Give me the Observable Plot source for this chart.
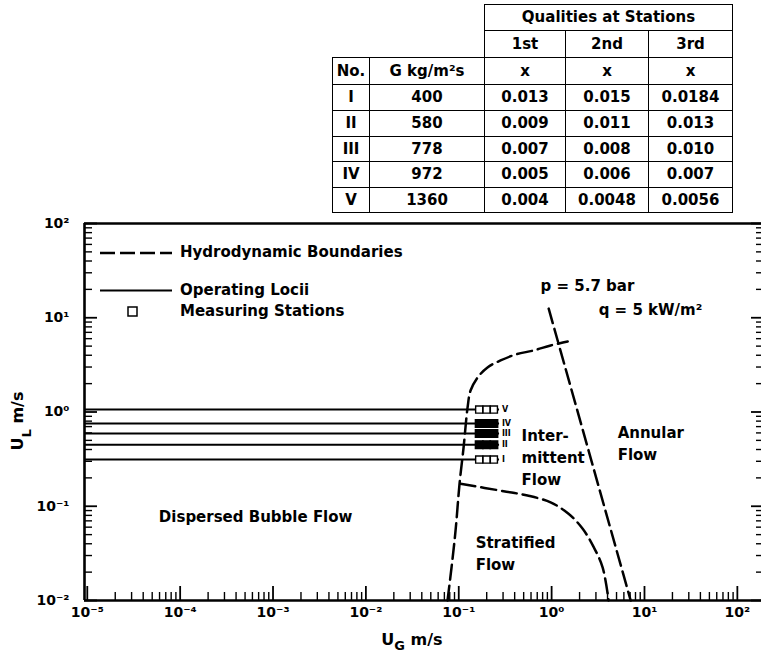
<!DOCTYPE html>
<html><head><meta charset="utf-8">
<script src="https://cdn.jsdelivr.net/npm/d3@7"></script>
<script src="https://cdn.jsdelivr.net/npm/@observablehq/plot@0.6"></script>
<style>
body{margin:0;background:#fff;}
#wrap{position:relative;width:764px;height:657px;}
#tbl{position:absolute;left:332px;top:4px;border-collapse:collapse;font:bold 15px "DejaVu Sans",sans-serif;color:#000;table-layout:fixed;}
#tbl td{border:1.5px solid #000;text-align:center;padding:0;line-height:1;}
#tbl td.blank{border:none;}
</style></head><body><div id="wrap"></div>
<script>
// ---- table data ----
const tableNo = ["I","II","III","IV","V"];
const tableG = ["400","580","778","972","1360"];
const quality1st = ["0.013","0.009","0.007","0.005","0.004"];
const quality2nd = ["0.015","0.011","0.008","0.006","0.0048"];
const quality3rd = ["0.0184","0.013","0.010","0.007","0.0056"];

// ---- chart data ----
const lociNo = ["I","II","III","IV","V"];
const lociUL = [0.313, 0.45, 0.59, 0.755, 1.06];          // U_L of operating loci (m/s)
const stationUG = [0.166, 0.1994, 0.239];                   // U_G of 1st, 2nd, 3rd stations
const lociEndUG = 0.275;
// hydrodynamic boundaries [U_G, U_L]
const boundaryIntermittent = [[0.0757,0.01],[0.0836,0.0224],[0.0924,0.0553],[0.102,0.174],[0.1127,0.42],[0.1245,1.12],[0.134,1.69],[0.1595,2.32],[0.204,2.97],[0.282,3.52],[0.409,4.07],[0.64,4.5],[0.975,5.08],[1.49,5.6]];
const boundaryStratified = [[0.1045,0.173],[0.304,0.1445],[0.55,0.130],[0.975,0.110],[1.52,0.0832],[2.16,0.0577],[2.84,0.0368],[3.54,0.0225],[4.11,0.01]];
const boundaryAnnular = [[0.93,12.5],[7.1,0.01]];
// region labels
const centerLabelText = ["Dispersed Bubble Flow"];
const centerLabelUG = [6.5e-4];
const centerLabelUL = [0.076];
const startLabelText = ["Inter-\nmittent\nFlow","Annular\nFlow","Stratified\nFlow","p = 5.7 bar","q = 5 kW/m²"];
const startLabelUG = [0.475, 5.14, 0.152, 0.76, 3.21];
const startLabelUL = [0.341, 0.486, 0.0331, 23.1, 12.8];
// axes
const xTickExp = [-5,-4,-3,-2,-1,0,1,2];
const yTickExp = [-2,-1,0,1,2];

// ---- table ----
const tbl = document.createElement("table");
tbl.id = "tbl";
const colW = [37,115,81,83,84];
let html = "<colgroup>" + colW.map(w=>`<col style="width:${w}px">`).join("") + "</colgroup>";
html += `<tr style="height:26px"><td class="blank" colspan="2"></td><td colspan="3">Qualities at Stations</td></tr>`;
html += `<tr style="height:27px"><td class="blank" colspan="2"></td><td>1st</td><td>2nd</td><td>3rd</td></tr>`;
html += `<tr style="height:27px"><td>No.</td><td>G kg/m²s</td><td>x</td><td>x</td><td>x</td></tr>`;
const rowH = [26,26,25,26,25];
tableNo.forEach((n,i)=>{
  html += `<tr style="height:${rowH[i]}px"><td>${n}</td><td>${tableG[i]}</td><td>${quality1st[i]}</td><td>${quality2nd[i]}</td><td>${quality3rd[i]}</td></tr>`;
});
tbl.innerHTML = html;

// ---- chart ----
const W=764, H=657, mL=84, mR=3, mT=223, mB=57;
const fw = W-mL-mR, fh = H-mT-mB;
const xDomain = [Math.pow(10,-5.03), Math.pow(10,2.26)];
const yDomain = [0.01, 100];
const xMajor = xTickExp.map(e=>Math.pow(10,e));
const yMajor = yTickExp.map(e=>Math.pow(10,e));
const minorOf = exps => exps.slice(0,-1).flatMap(e=>[2,3,4,5,6,7,8,9].map(k=>k*Math.pow(10,e)));
const xMinor = minorOf(xTickExp);
const yMinor = minorOf(yTickExp);
const supMap = {"-":"⁻","0":"⁰","1":"¹","2":"²","3":"³","4":"⁴","5":"⁵","6":"⁶","7":"⁷","8":"⁸","9":"⁹"};
const pow10 = d => "10" + String(Math.round(Math.log10(d))).split("").map(c=>supMap[c]).join("");

const loci = lociNo.map((no,i)=>({no, ul: lociUL[i]}));
const stations = loci.flatMap(l => stationUG.map(ug => ({ug, ul: l.ul, no: l.no})));
const hollow = d => d.no === "I" || d.no === "V";
const centerLabels = centerLabelText.map((t,i)=>({t, ug: centerLabelUG[i], ul: centerLabelUL[i]}));
const startLabels = startLabelText.map((t,i)=>({t, ug: startLabelUG[i], ul: startLabelUL[i]}));
const dash = "15,6";

const chart = Plot.plot({
  width: W, height: H,
  marginLeft: mL, marginRight: mR, marginTop: mT, marginBottom: mB,
  style: {fontFamily: "DejaVu Sans, sans-serif", fontWeight: "bold", fontSize: "13px", color: "#000", background: "transparent"},
  x: {type: "log", domain: xDomain, axis: null},
  y: {type: "log", domain: yDomain, axis: null},
  marks: [
    Plot.ruleY(yDomain, {strokeWidth: 2.6}),
    Plot.ruleX([xDomain[0]], {strokeWidth: 2.6}),
    Plot.tickX(xMinor, {x: d=>d, insetTop: fh-8, strokeWidth: 1.4}),
    Plot.tickX(xMajor, {x: d=>d, insetTop: fh-14, strokeWidth: 1.8}),
    Plot.tickY(yMinor, {y: d=>d, insetRight: fw-8, strokeWidth: 1.4}),
    Plot.tickY(yMajor, {y: d=>d, insetRight: fw-13, strokeWidth: 1.8}),
    Plot.tickY(yMinor, {y: d=>d, insetLeft: fw-5, strokeWidth: 1.4}),
    Plot.tickY(yMajor, {y: d=>d, insetLeft: fw-10, strokeWidth: 1.8}),
    Plot.axisX(xMajor, {tickSize: 0, tickPadding: 7, tickFormat: pow10, label: null, fontSize: 14}),
    Plot.axisY(yMajor, {tickSize: 0, tickPadding: 15, tickFormat: pow10, label: null, fontSize: 14}),
    Plot.ruleY(loci, {y: "ul", x1: xDomain[0], x2: lociEndUG, strokeWidth: 2}),
    Plot.line(boundaryIntermittent, {x: d=>d[0], y: d=>d[1], strokeWidth: 2.5, strokeDasharray: dash, curve: "catmull-rom"}),
    Plot.line(boundaryStratified, {x: d=>d[0], y: d=>d[1], strokeWidth: 2.5, strokeDasharray: dash, curve: "catmull-rom"}),
    Plot.line(boundaryAnnular, {x: d=>d[0], y: d=>d[1], strokeWidth: 2.5, strokeDasharray: dash}),
    Plot.dot(stations.filter(hollow), {x: "ug", y: "ul", symbol: "square", r: 4, fill: "white", stroke: "black", strokeWidth: 1.4}),
    Plot.dot(stations.filter(d=>!hollow(d)), {x: "ug", y: "ul", symbol: "square", r: 4.3, fill: "black", stroke: "black", strokeWidth: 1.4}),
    Plot.text(loci, {x: () => stationUG[2], y: "ul", text: "no", dx: 8, textAnchor: "start", fontSize: 8}),
    Plot.text(centerLabels, {x: "ug", y: "ul", text: "t", textAnchor: "middle", fontSize: 15}),
    Plot.text(startLabels, {x: "ug", y: "ul", text: "t", textAnchor: "start", fontSize: 15, lineHeight: 1.47})
  ]
});
const wrap = document.getElementById("wrap");
wrap.appendChild(chart);
wrap.appendChild(tbl);

// ---- legend & axis titles ----
const svg = d3.select(chart);
const g = svg.append("g").attr("font-family","DejaVu Sans, sans-serif").attr("font-weight","bold").attr("font-size",15).attr("fill","#000").attr("text-anchor","start");
g.append("line").attr("x1",mL+16).attr("x2",mL+88).attr("y1",253).attr("y2",253).attr("stroke","#000").attr("stroke-width",2.5).attr("stroke-dasharray","15,5");
g.append("text").attr("x",180).attr("y",252).attr("dy","0.35em").text("Hydrodynamic Boundaries");
g.append("line").attr("x1",mL+16).attr("x2",mL+88).attr("y1",290.5).attr("y2",290.5).attr("stroke","#000").attr("stroke-width",1.8);
g.append("text").attr("x",180).attr("y",290).attr("dy","0.35em").text("Operating Locii");
g.append("rect").attr("x",128).attr("y",307).attr("width",9).attr("height",9).attr("fill","none").attr("stroke","#000").attr("stroke-width",1.5);
g.append("text").attr("x",180).attr("y",311).attr("dy","0.35em").text("Measuring Stations");
const tl = g.append("text").attr("transform","translate(23,421) rotate(-90)").attr("text-anchor","middle").attr("font-size",16);
tl.append("tspan").text("U");
tl.append("tspan").attr("dy",8).attr("font-size",13).text("L");
tl.append("tspan").attr("dy",-8).text(" m/s");
const tg = g.append("text").attr("x",412).attr("y",645).attr("text-anchor","middle").attr("font-size",16);
tg.append("tspan").text("U");
tg.append("tspan").attr("dy",5).attr("font-size",13).text("G");
tg.append("tspan").attr("dy",-5).text(" m/s");
</script></body></html>
